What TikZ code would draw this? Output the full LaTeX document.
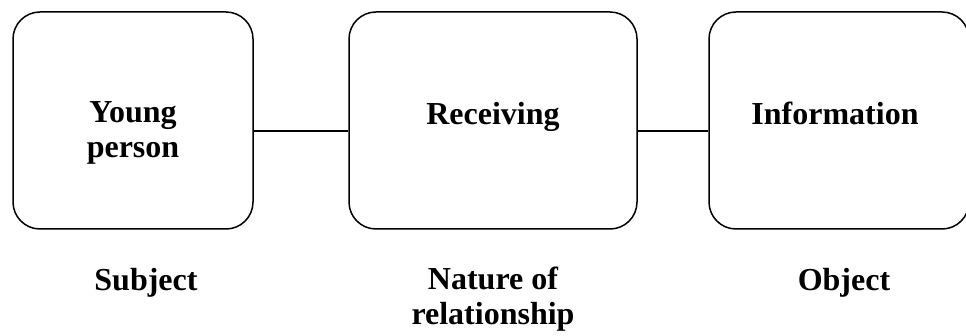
\documentclass[tikz,border=0pt]{standalone}
\usepackage{fontspec}
\setmainfont{Liberation Serif}
\begin{document}
\begin{tikzpicture}[x=1pt,y=-1pt,
  stage/.style={draw, line width=1.5pt, rounded corners=27pt, inner sep=0pt,
    minimum height=217pt},
  caption/.style={font=\bfseries\fontsize{32}{35}\selectfont, align=center, anchor=base, inner sep=0pt},
  link/.style={line width=1.5pt}]
  \useasboundingbox (0,0) rectangle (966,336);
  % the three stages
  \node[stage, minimum width=240pt] (young) at (133,120.5) {};
  \node[stage, minimum width=288pt] (recv) at (493,120.5) {};
  \node[stage, minimum width=260pt] (info) at (839,120.5) {};
  % texts inside the stages (base = last line of a multi-line node)
  \node[caption] (tyoung) at (133,158) {Young\\person};
  \node[caption] (trecv) at (493,125) {Receiving};
  \node[caption] (tinfo) at (835,125) {Information};
  % connectors
  \draw[link] ([yshift=-10.5pt]young.east) -- ([yshift=-10.5pt]recv.west);
  \draw[link] ([yshift=-10.5pt]recv.east) -- ([yshift=-10.5pt]info.west);
  % roles underneath
  \node[caption] (subj) at (146,291) {Subject};
  \node[caption] (nature) at (493,325) {Nature of\\relationship};
  \node[caption] (obj) at (844,291) {Object};
\end{tikzpicture}
\end{document}
